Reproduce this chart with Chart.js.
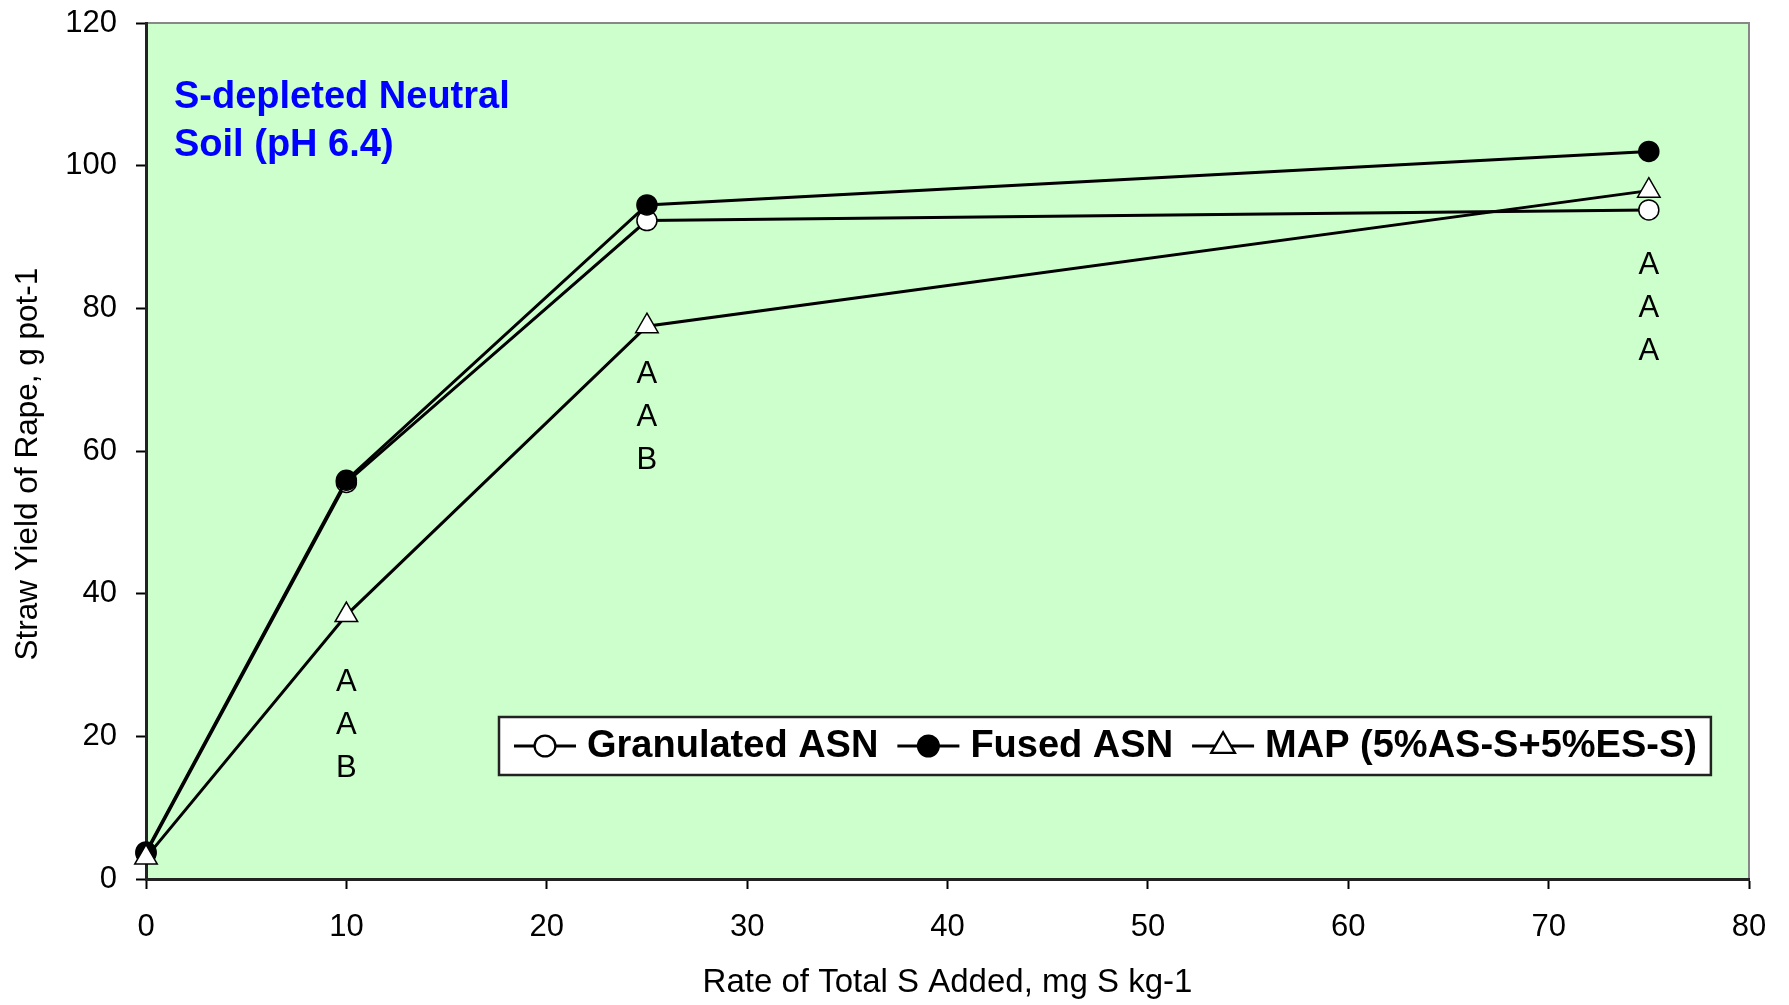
<!DOCTYPE html>
<html>
<head>
<meta charset="utf-8">
<script src="https://cdn.jsdelivr.net/npm/chart.js@4.4.1/dist/chart.umd.min.js"></script>
<style>
  html, body { margin: 0; padding: 0; background: #ffffff; }
  #wrap { width: 1789px; height: 1005px; position: relative; }
</style>
</head>
<body>
<div id="wrap"><canvas id="yieldChart"></canvas></div>
<script>
// Rate of total S added (mg S kg-1)
const sRates = [0, 10, 25, 75];

// Straw yield of rape (g pot-1)
const granulatedASN = [3.6, 55.6, 92.3, 93.8];
const fusedASN = [3.8, 55.9, 94.5, 102.0];
const mapAsEs = [3.0, 37.0, 77.5, 96.5];

const seriesNames = ["Granulated ASN", "Fused ASN", "MAP (5%AS-S+5%ES-S)"];

// significance letters, one group per rate, top letter level in y units
const letterRates = [10, 25, 75];
const letterTopY = [27.6, 70.8, 86.0];
const letterGroups = [["A", "A", "B"], ["A", "A", "B"], ["A", "A", "A"]];

const titleLines = ["S-depleted Neutral", "Soil (pH 6.4)"];

const FONT = "'Liberation Sans', Arial, sans-serif";

function toPoints(ys) {
  return sRates.map((x, i) => ({ x: x, y: ys[i] }));
}

// background, frame, letters, soil label, legend box
const extras = {
  id: "extras",
  beforeDraw(chart) {
    const { ctx, chartArea: a } = chart;
    ctx.save();
    ctx.fillStyle = "#ccffcc";
    ctx.fillRect(a.left, a.top, a.right - a.left, a.bottom - a.top);
    ctx.strokeStyle = "#888888";
    ctx.lineWidth = 2;
    ctx.beginPath();
    ctx.moveTo(a.left, a.top);
    ctx.lineTo(a.right, a.top);
    ctx.lineTo(a.right, a.bottom);
    ctx.stroke();
    ctx.restore();
  },
  afterDraw(chart) {
    const { ctx, chartArea: a } = chart;
    const xs = chart.scales.x;
    const ys = chart.scales.y;
    ctx.save();

    // letters under points
    ctx.fillStyle = "#000";
    ctx.font = "31px " + FONT;
    ctx.textAlign = "center";
    ctx.textBaseline = "middle";
    letterRates.forEach((r, i) => {
      const px = xs.getPixelForValue(r);
      const py = ys.getPixelForValue(letterTopY[i]);
      letterGroups[i].forEach((l, j) => {
        ctx.fillText(l, px, py + j * 43);
      });
    });

    // soil label
    ctx.fillStyle = "#0000ff";
    ctx.font = "bold 38px " + FONT;
    ctx.textAlign = "left";
    titleLines.forEach((t, i) => {
      ctx.fillText(t, a.left + 28, a.top + 75 + i * 48);
    });

    // legend
    ctx.font = "bold 38px " + FONT;
    const boxLeft = 499, boxTop = 717, boxH = 58;
    const cy = boxTop + boxH / 2;
    let cur = boxLeft + 15;
    const items = [];
    chart.data.datasets.forEach(ds => {
      const start = cur;
      cur += 62 + 11;
      const tw = ctx.measureText(ds.label).width;
      items.push({ ds, start, textX: cur });
      cur += tw + 19;
    });
    const boxW = cur - 19 + 14 - boxLeft;
    ctx.fillStyle = "#ffffff";
    ctx.fillRect(boxLeft, boxTop, boxW, boxH);
    ctx.strokeStyle = "#222";
    ctx.lineWidth = 2.5;
    ctx.strokeRect(boxLeft, boxTop, boxW, boxH);

    items.forEach(it => {
      const ds = it.ds;
      ctx.strokeStyle = "#000";
      ctx.lineWidth = 3;
      ctx.beginPath();
      ctx.moveTo(it.start, cy);
      ctx.lineTo(it.start + 62, cy);
      ctx.stroke();
      Chart.helpers.drawPoint(ctx, {
        pointStyle: ds.pointStyle,
        radius: ds.pointRadius,
        borderWidth: ds.pointBorderWidth
      }, it.start + 31, cy);
      ctx.fillStyle = ds.pointBackgroundColor;
      ctx.strokeStyle = "#000";
      ctx.lineWidth = ds.pointBorderWidth;
      ctx.fill();
      ctx.stroke();
      ctx.fillStyle = "#000";
      ctx.textAlign = "left";
      ctx.textBaseline = "middle";
      ctx.fillText(ds.label, it.textX, cy + 1);
    });

    ctx.restore();
  }
};

const baseSet = {
  borderColor: "#000",
  borderWidth: 3,
  pointBorderColor: "#000",
  pointBorderWidth: 1.5,
  tension: 0,
  clip: false
};

const ctx = document.getElementById("yieldChart").getContext("2d");
const yieldChart = new Chart(ctx, {
  type: "line",
  data: {
    datasets: [
      Object.assign({}, baseSet, {
        label: seriesNames[0],
        data: toPoints(granulatedASN),
        pointStyle: "circle",
        pointRadius: 10,
        pointBackgroundColor: "#ffffff",
        order: 2
      }),
      Object.assign({}, baseSet, {
        label: seriesNames[1],
        data: toPoints(fusedASN),
        pointStyle: "circle",
        pointRadius: 10,
        pointBackgroundColor: "#000000",
        order: 1
      }),
      Object.assign({}, baseSet, {
        label: seriesNames[2],
        data: toPoints(mapAsEs),
        pointStyle: "triangle",
        pointRadius: 13,
        pointBackgroundColor: "#ffffff",
        order: 0
      })
    ]
  },
  options: {
    responsive: true,
    maintainAspectRatio: false,
    animation: false,
    layout: { autoPadding: false, padding: { top: 23, right: 40, left: 0, bottom: 0 } },
    plugins: {
      legend: { display: false },
      tooltip: { enabled: false }
    },
    scales: {
      x: {
        type: "linear",
        min: 0,
        max: 80,
        afterFit: s => { s.height = 126; },
        ticks: {
          stepSize: 10,
          color: "#000",
          padding: 20,
          font: { family: FONT, size: 31 }
        },
        grid: {
          drawOnChartArea: false,
          drawTicks: true,
          tickLength: 10,
          tickColor: "#000",
          tickWidth: 2
        },
        border: { display: true, color: "#222", width: 3 },
        title: {
          display: true,
          text: "Rate of Total S Added, mg S kg-1",
          color: "#000",
          padding: { top: 0, bottom: 2 },
          font: { family: FONT, size: 33 }
        }
      },
      y: {
        min: 0,
        max: 120,
        afterFit: s => {
          s.width = 146;
          s.paddingTop = 0;
          s.paddingBottom = 0;
        },
        ticks: {
          stepSize: 20,
          color: "#000",
          padding: 19,
          font: { family: FONT, size: 31 }
        },
        grid: {
          drawOnChartArea: false,
          drawTicks: true,
          tickLength: 10,
          tickColor: "#000",
          tickWidth: 2
        },
        border: { display: true, color: "#222", width: 3 },
        title: {
          display: true,
          // trailing spaces nudge the rotated title a little lower
          text: "Straw Yield of Rape, g pot-1   ",
          color: "#000",
          padding: { top: 9, bottom: 0 },
          font: { family: FONT, size: 31.5 }
        }
      }
    }
  },
  plugins: [extras]
});
</script>
</body>
</html>
